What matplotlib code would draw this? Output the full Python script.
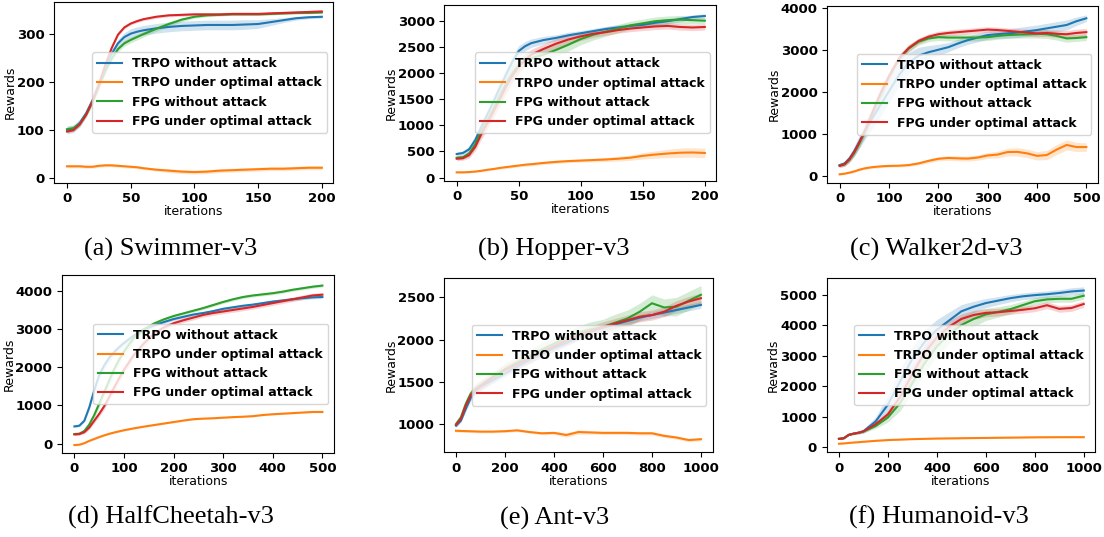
import matplotlib
matplotlib.use("Agg")
import matplotlib.pyplot as plt
import numpy as np

W, H = 1104, 537

labels = ["TRPO without attack", "TRPO under optimal attack",
          "FPG without attack", "FPG under optimal attack"]
colors = ["#1f77b4", "#ff7f0e", "#2ca02c", "#d62728"]

# ---------------- (a) Swimmer-v3 ----------------
swim_x = [0, 5, 10, 15, 20, 25, 30, 35, 40, 45, 50, 55, 60, 70, 80, 90, 100,
          110, 120, 130, 140, 150, 160, 170, 180, 190, 200]
swim_trpo = [100, 103, 115, 135, 162, 195, 230, 258, 280, 293, 300, 304, 307, 311,
             314, 316, 317, 318, 318, 318, 319, 320, 324, 328, 332, 334, 335]
swim_trpo_att = [25, 25, 25, 24, 24, 26, 27, 27, 26, 25, 24, 23, 21, 18, 16, 14, 13,
                 14, 16, 17, 18, 19, 20, 20, 21, 22, 22]
swim_fpg = [102, 104, 113, 132, 158, 190, 222, 248, 268, 280, 287, 293, 299, 310,
            320, 329, 335, 338, 339, 340, 340, 340, 341, 342, 343, 343, 344]
swim_fpg_att = [97, 100, 112, 132, 160, 195, 235, 270, 298, 313, 321, 326, 330, 335,
                338, 339, 340, 340, 340, 341, 341, 341, 342, 343, 344, 345, 346]
swim_trpo_sd = [8, 8, 8, 7, 6, 6, 6, 7, 8, 9, 10, 10, 10, 10, 10, 10, 10, 10, 10, 10,
                10, 9, 7, 5, 4, 3, 3]
swim_trpo_att_sd = [3, 3, 3, 3, 3, 3, 3, 3, 3, 3, 3, 3, 3, 3, 4, 4, 4, 4, 4, 4, 4, 4,
                    4, 4, 4, 4, 4]
swim_fpg_sd = [6, 6, 6, 6, 6, 6, 6, 6, 6, 6, 6, 6, 6, 5, 5, 4, 3, 3, 2, 2, 2, 2, 2, 2,
               2, 2, 2]
swim_fpg_att_sd = [3] * 27

# ---------------- (b) Hopper-v3 ----------------
hop_x = [0, 5, 10, 15, 20, 25, 30, 35, 40, 45, 50, 55, 60, 70, 80, 90, 100,
         110, 120, 130, 140, 150, 160, 170, 180, 190, 200]
hop_trpo = [450, 470, 540, 720, 980, 1220, 1470, 1730, 1980, 2220, 2420, 2510, 2570,
            2630, 2670, 2720, 2760, 2800, 2840, 2870, 2900, 2920, 2960, 2990, 3030,
            3070, 3090]
hop_trpo_att = [100, 100, 105, 115, 130, 150, 165, 185, 200, 215, 230, 245, 255, 280,
                300, 315, 325, 335, 345, 360, 380, 415, 440, 460, 475, 480, 470]
hop_fpg = [380, 390, 460, 640, 900, 1100, 1330, 1570, 1800, 2000, 2150, 2230, 2280,
           2350, 2440, 2540, 2650, 2730, 2790, 2850, 2910, 2950, 2990, 3010, 3020,
           3010, 3000]
hop_fpg_att = [360, 370, 430, 590, 840, 1050, 1280, 1510, 1750, 1950, 2120, 2250,
               2350, 2460, 2560, 2640, 2700, 2750, 2780, 2820, 2850, 2870, 2890, 2900,
               2880, 2870, 2880]
hop_trpo_sd = [40, 40, 60, 80, 100, 110, 120, 120, 120, 110, 100, 90, 80, 70, 60, 60,
               50, 50, 50, 50, 50, 50, 50, 50, 50, 40, 40]
hop_trpo_att_sd = [15, 15, 15, 15, 20, 20, 20, 20, 25, 25, 25, 30, 30, 30, 30, 30, 30,
                   35, 40, 45, 50, 60, 70, 80, 90, 90, 90]
hop_fpg_sd = [40, 40, 60, 80, 100, 120, 140, 150, 150, 150, 140, 130, 120, 120, 120,
              120, 110, 100, 90, 80, 80, 80, 80, 80, 80, 70, 60]
hop_fpg_att_sd = [40, 40, 60, 80, 100, 120, 130, 140, 140, 130, 120, 110, 100, 100,
                  100, 90, 80, 70, 60, 60, 60, 60, 60, 60, 60, 60, 60]

# ---------------- (c) Walker2d-v3 ----------------
walk_x = [0, 10, 20, 30, 40, 50, 60, 70, 80, 90, 100, 120, 140, 160, 180, 200, 220,
          240, 260, 280, 300, 320, 340, 360, 380, 400, 420, 440, 460, 480, 500]
walk_trpo = [260, 300, 420, 600, 820, 1050, 1260, 1450, 1640, 1830, 2020, 2400, 2700,
             2870, 2950, 3010, 3070, 3160, 3240, 3300, 3360, 3380, 3400, 3420, 3450,
             3480, 3520, 3560, 3600, 3690, 3760]
walk_trpo_att = [40, 55, 80, 110, 150, 180, 200, 215, 225, 235, 240, 245, 260, 300,
                 360, 410, 430, 420, 415, 440, 490, 510, 570, 575, 540, 480, 500, 630,
                 740, 690, 690]
walk_fpg = [250, 280, 390, 560, 780, 1020, 1300, 1590, 1870, 2120, 2360, 2780, 3040,
            3200, 3280, 3310, 3300, 3300, 3300, 3300, 3310, 3340, 3360, 3370, 3380,
            3390, 3380, 3340, 3280, 3290, 3310]
walk_fpg_att = [240, 280, 400, 580, 800, 1050, 1330, 1620, 1900, 2150, 2380, 2800,
                3050, 3220, 3320, 3380, 3410, 3430, 3450, 3470, 3490, 3480, 3460, 3440,
                3420, 3400, 3410, 3390, 3380, 3410, 3430]
walk_trpo_sd = [40, 50, 80, 120, 160, 200, 230, 250, 260, 270, 270, 260, 240, 200, 160,
                130, 110, 100, 100, 100, 100, 100, 110, 120, 120, 120, 120, 120, 120,
                100, 80]
walk_trpo_att_sd = [20, 20, 20, 25, 25, 30, 30, 30, 30, 30, 30, 30, 35, 40, 45, 50, 55,
                    60, 60, 65, 70, 80, 90, 100, 100, 100, 110, 120, 120, 110, 100]
walk_fpg_sd = [40, 50, 70, 90, 100, 110, 120, 120, 120, 120, 110, 100, 90, 80, 80, 80,
               80, 80, 80, 80, 80, 80, 80, 80, 90, 100, 100, 100, 90, 80, 80]
walk_fpg_att_sd = [40, 50, 70, 90, 100, 110, 120, 120, 120, 110, 100, 90, 80, 70, 70,
                   70, 70, 70, 70, 70, 70, 70, 70, 70, 80, 80, 80, 90, 90, 90, 90]

# ---------------- (d) HalfCheetah-v3 ----------------
cheet_x = [0, 10, 20, 30, 40, 50, 60, 70, 80, 90, 100, 120, 140, 160, 180, 200, 220,
           240, 260, 280, 300, 320, 340, 360, 380, 400, 420, 440, 460, 480, 500]
cheet_trpo = [450, 470, 600, 950, 1400, 1800, 2050, 2250, 2400, 2530, 2640, 2840,
              3000, 3100, 3190, 3270, 3330, 3390, 3430, 3480, 3540, 3580, 3620, 3650,
              3690, 3730, 3760, 3790, 3820, 3840, 3850]
cheet_trpo_att = [-40, -30, 10, 70, 120, 170, 215, 255, 290, 320, 350, 400, 445, 485,
                  525, 565, 605, 640, 655, 665, 680, 695, 705, 720, 750, 770, 785, 800,
                  815, 830, 830]
cheet_fpg = [250, 260, 330, 500, 750, 1050, 1350, 1650, 1950, 2200, 2420, 2780, 3000,
             3150, 3260, 3350, 3420, 3490, 3560, 3640, 3720, 3790, 3850, 3890, 3920,
             3950, 3990, 4040, 4080, 4120, 4150]
cheet_fpg_att = [240, 250, 300, 420, 600, 780, 980, 1220, 1470, 1710, 1940, 2330,
                 2630, 2880, 3050, 3160, 3240, 3310, 3380, 3430, 3470, 3510, 3550, 3590,
                 3640, 3690, 3740, 3790, 3840, 3890, 3910]
cheet_trpo_sd = [30, 30, 40, 60, 80, 100, 100, 100, 90, 80, 70, 60, 50, 50, 40, 40,
                 40, 40, 40, 40, 40, 40, 40, 40, 40, 40, 40, 40, 40, 40, 40]
cheet_trpo_att_sd = [20] * 31
cheet_fpg_sd = [30, 30, 40, 60, 80, 100, 110, 120, 120, 110, 100, 80, 60, 50, 50, 40,
                40, 40, 40, 40, 40, 40, 40, 40, 40, 40, 40, 40, 40, 40, 40]
cheet_fpg_att_sd = [30, 30, 40, 50, 60, 70, 80, 90, 100, 100, 100, 100, 90, 80, 70,
                    60, 60, 60, 60, 60, 60, 60, 60, 60, 60, 60, 60, 60, 60, 60, 60]

# ---------------- (e) Ant-v3 ----------------
ant_x = [0, 20, 40, 60, 80, 100, 150, 200, 250, 300, 350, 400, 450, 500, 550, 600,
         650, 700, 750, 800, 850, 900, 950, 1000]
ant_trpo = [980, 1040, 1180, 1310, 1390, 1440, 1520, 1600, 1680, 1760, 1830, 1900,
            1960, 2030, 2090, 2140, 2180, 2220, 2260, 2290, 2320, 2350, 2380, 2410]
ant_trpo_att = [920, 918, 916, 914, 912, 910, 910, 915, 925, 905, 890, 895, 870, 905,
                900, 895, 895, 895, 890, 890, 860, 840, 810, 820]
ant_fpg = [1000, 1080, 1240, 1360, 1420, 1460, 1560, 1650, 1730, 1800, 1880, 1950,
           2020, 2080, 2120, 2150, 2200, 2250, 2330, 2430, 2380, 2390, 2460, 2530]
ant_fpg_att = [990, 1060, 1220, 1340, 1410, 1450, 1550, 1640, 1710, 1780, 1850, 1920,
               1990, 2050, 2100, 2150, 2190, 2230, 2270, 2290, 2330, 2400, 2450, 2490]
ant_trpo_sd = [20, 20, 30, 40, 40, 40, 40, 40, 40, 40, 40, 40, 40, 40, 40, 40, 40, 40,
               40, 40, 40, 40, 40, 40]
ant_trpo_att_sd = [15, 15, 15, 15, 15, 15, 15, 15, 15, 15, 15, 20, 25, 25, 20, 20, 20,
                   20, 20, 20, 20, 20, 20, 20]
ant_fpg_sd = [20, 30, 40, 50, 60, 60, 60, 70, 80, 80, 80, 80, 80, 80, 90, 90, 100, 100,
              100, 100, 100, 110, 110, 110]
ant_fpg_att_sd = [20, 30, 40, 50, 60, 60, 60, 60, 60, 60, 60, 60, 60, 60, 60, 60, 60,
                  60, 60, 60, 60, 60, 60, 60]

# ---------------- (f) Humanoid-v3 ----------------
hum_x = [0, 20, 40, 60, 80, 100, 150, 200, 250, 300, 350, 400, 450, 500, 550, 600,
         650, 700, 750, 800, 850, 900, 950, 1000]
hum_trpo = [280, 300, 410, 450, 480, 530, 850, 1400, 2160, 2900, 3450, 3850, 4150,
            4450, 4600, 4720, 4800, 4880, 4940, 4980, 5010, 5050, 5100, 5130]
hum_trpo_att = [120, 130, 145, 160, 170, 185, 215, 240, 255, 270, 280, 290, 295, 300,
                305, 310, 315, 320, 325, 330, 332, 334, 335, 335]
hum_fpg = [280, 300, 410, 450, 480, 520, 700, 980, 1450, 2100, 2750, 3300, 3700, 4000,
           4200, 4350, 4430, 4520, 4650, 4780, 4840, 4860, 4860, 4960]
hum_fpg_att = [280, 300, 410, 450, 480, 525, 760, 1080, 1650, 2400, 3100, 3600, 3950,
               4200, 4330, 4400, 4420, 4460, 4500, 4550, 4650, 4530, 4560, 4690]
hum_trpo_sd = [20, 20, 20, 30, 40, 60, 150, 300, 400, 400, 380, 330, 280, 220, 180,
               150, 130, 120, 110, 110, 110, 110, 120, 120]
hum_trpo_att_sd = [15] * 24
hum_fpg_sd = [20, 20, 20, 30, 40, 50, 80, 150, 250, 300, 320, 320, 300, 280, 250, 200,
              170, 150, 130, 120, 110, 110, 110, 110]
hum_fpg_att_sd = [20, 20, 20, 30, 40, 50, 80, 120, 200, 250, 250, 230, 200, 170, 150,
                  130, 120, 110, 110, 110, 110, 110, 110, 110]

panels = [
    dict(x=swim_x, ys=[swim_trpo, swim_trpo_att, swim_fpg, swim_fpg_att],
         sds=[swim_trpo_sd, swim_trpo_att_sd, swim_fpg_sd, swim_fpg_att_sd],
         box=(54.3, 2.3, 333.3, 182.7), xlim=(-10, 209), ylim=(-9, 365),
         xticks=[0, 50, 100, 150, 200], yticks=[0, 100, 200, 300],
         cap="(a) Swimmer-v3", cap_xy=(170.5, 249)),
    dict(x=hop_x, ys=[hop_trpo, hop_trpo_att, hop_fpg, hop_fpg_att],
         sds=[hop_trpo_sd, hop_trpo_att_sd, hop_fpg_sd, hop_fpg_att_sd],
         box=(444.3, 5, 716, 180.7), xlim=(-10, 209), ylim=(-60, 3300),
         xticks=[0, 50, 100, 150, 200], yticks=[0, 500, 1000, 1500, 2000, 2500, 3000],
         cap="(b) Hopper-v3", cap_xy=(553.3, 249)),
    dict(x=walk_x, ys=[walk_trpo, walk_trpo_att, walk_fpg, walk_fpg_att],
         sds=[walk_trpo_sd, walk_trpo_att_sd, walk_fpg_sd, walk_fpg_att_sd],
         box=(827.3, 5.7, 1097.7, 182.7), xlim=(-25, 523), ylim=(-160, 4060),
         xticks=[0, 100, 200, 300, 400, 500], yticks=[0, 1000, 2000, 3000, 4000],
         cap="(c) Walker2d-v3", cap_xy=(935.8, 249)),
    dict(x=cheet_x, ys=[cheet_trpo, cheet_trpo_att, cheet_fpg, cheet_fpg_att],
         sds=[cheet_trpo_sd, cheet_trpo_att_sd, cheet_fpg_sd, cheet_fpg_att_sd],
         box=(62, 275.3, 334.3, 452.7), xlim=(-25, 524), ylim=(-240, 4420),
         xticks=[0, 100, 200, 300, 400, 500], yticks=[0, 1000, 2000, 3000, 4000],
         cap="(d) HalfCheetah-v3", cap_xy=(171.2, 517)),
    dict(x=ant_x, ys=[ant_trpo, ant_trpo_att, ant_fpg, ant_fpg_att],
         sds=[ant_trpo_sd, ant_trpo_att_sd, ant_fpg_sd, ant_fpg_att_sd],
         box=(444, 278, 712.7, 452.3), xlim=(-49, 1048), ylim=(665, 2729),
         xticks=[0, 200, 400, 600, 800, 1000], yticks=[1000, 1500, 2000, 2500],
         cap="(e) Ant-v3", cap_xy=(554.2, 518)),
    dict(x=hum_x, ys=[hum_trpo, hum_trpo_att, hum_fpg, hum_fpg_att],
         sds=[hum_trpo_sd, hum_trpo_att_sd, hum_fpg_sd, hum_fpg_att_sd],
         box=(826.7, 278, 1095, 452), xlim=(-50, 1046), ylim=(-150, 5540),
         xticks=[0, 200, 400, 600, 800, 1000],
         yticks=[0, 1000, 2000, 3000, 4000, 5000],
         cap="(f) Humanoid-v3", cap_xy=(939.2, 517)),
]

fig = plt.figure(figsize=(W / 100, H / 100), dpi=100)

for p in panels:
    l, t, r, b = p["box"]
    ax = fig.add_axes([l / W, (H - b) / H, (r - l) / W, (b - t) / H])
    x = np.array(p["x"])
    for y, sd, c, lab in zip(p["ys"], p["sds"], colors, labels):
        y = np.array(y, dtype=float)
        sd = np.array(sd, dtype=float)
        ax.fill_between(x, y - sd, y + sd, color=c, alpha=0.2, linewidth=0)
        ax.plot(x, y, color=c, lw=1.5, label=lab)
    ax.set_xlim(*p["xlim"])
    ax.set_ylim(*p["ylim"])
    ax.set_xticks(p["xticks"])
    ax.set_yticks(p["yticks"])
    for tl in ax.get_xticklabels() + ax.get_yticklabels():
        tl.set_fontweight("bold")
        tl.set_fontsize(9.5)
    ax.set_xlabel("iterations", fontsize=9, labelpad=0)
    ax.set_ylabel("Rewards", fontsize=9, labelpad=0)
    ax.legend(loc="center right", prop={"weight": "bold", "size": 9})
    cx, cy = p["cap_xy"]
    fig.text(cx / W, (H - cy) / H, p["cap"], ha="center", va="center",
             fontsize=19, family="Liberation Serif")

fig.savefig("out.png", dpi=100)
